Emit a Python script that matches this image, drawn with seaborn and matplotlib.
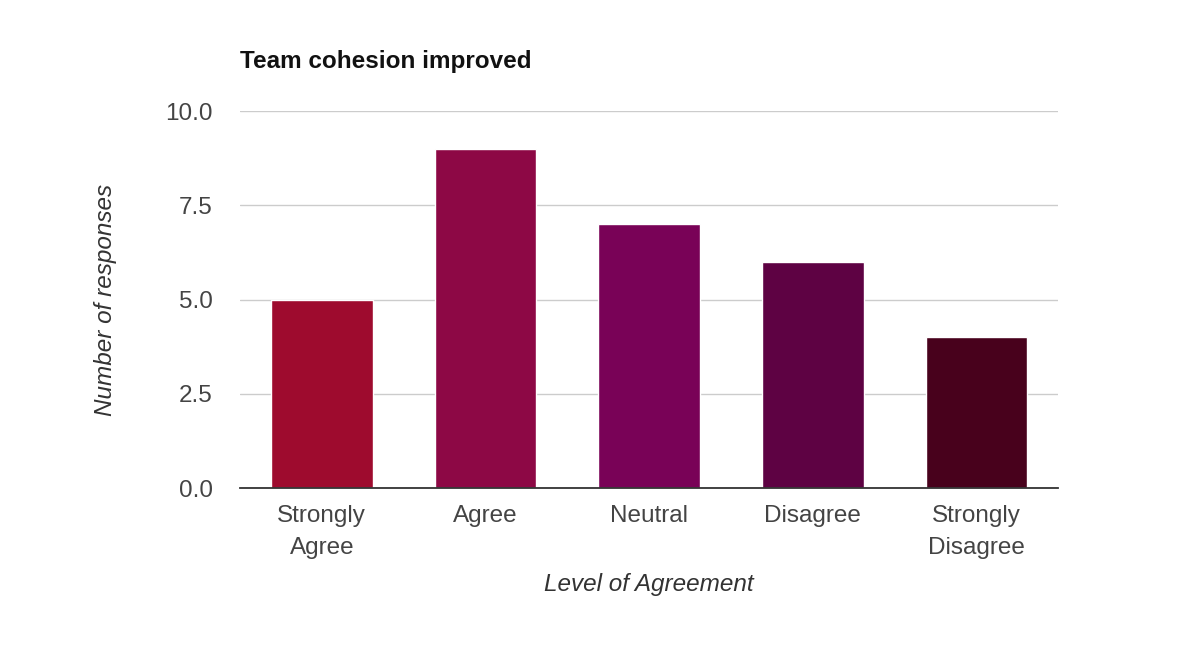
import pandas as pd
import numpy as np
import matplotlib
matplotlib.use("Agg")
import matplotlib.pyplot as plt
import seaborn as sns

sns.set_style("white")
plt.rcParams['font.family'] = ['Liberation Sans', 'DejaVu Sans']

# data
levels = ['Strongly\nAgree', 'Agree', 'Neutral', 'Disagree', 'Strongly\nDisagree']
responses = [5, 9, 7, 6, 4]
bar_colors = ['#9E0B2E', '#8D0845', '#790257', '#5E0243', '#48011C']

df = pd.DataFrame({'level': levels, 'responses': responses})

fig = plt.figure(figsize=(12, 6.47), dpi=100)
ax = fig.add_axes([0.2, 0.2457, 0.682, 0.5827])

sns.barplot(data=df, x='level', y='responses', hue='level', palette=bar_colors,
            legend=False, width=0.62, saturation=1, ax=ax)

ax.set_ylim(0, 10)
ax.set_xlim(-0.5, len(levels) - 0.5)
ax.set_yticks([0, 2.5, 5, 7.5, 10])
ax.set_yticklabels(['0.0', '2.5', '5.0', '7.5', '10.0'])
ax.yaxis.grid(True, color='#cccccc', linewidth=1)
ax.set_axisbelow(True)
for s in ['top', 'right', 'left']:
    ax.spines[s].set_visible(False)
ax.spines['bottom'].set_color('#333333')
ax.spines['bottom'].set_linewidth(1.3)
ax.tick_params(axis='both', length=0, labelsize=17.5, labelcolor='#444444')
ax.tick_params(axis='y', pad=19.5)
ax.tick_params(axis='x', pad=12)
for lbl in ax.get_xticklabels():
    lbl.set_linespacing(1.6)

ax.set_xlabel('Level of Agreement', fontsize=17.5, style='italic', color='#333333', labelpad=10)
ax.set_ylabel('Number of responses', fontsize=17.5, style='italic', color='#333333', labelpad=35)
fig.text(0.2, 0.905, 'Team cohesion improved', fontsize=17.5, fontweight='bold',
         color='#111111', ha='left', va='center')

fig.savefig('out.png', dpi=100, facecolor='white')
